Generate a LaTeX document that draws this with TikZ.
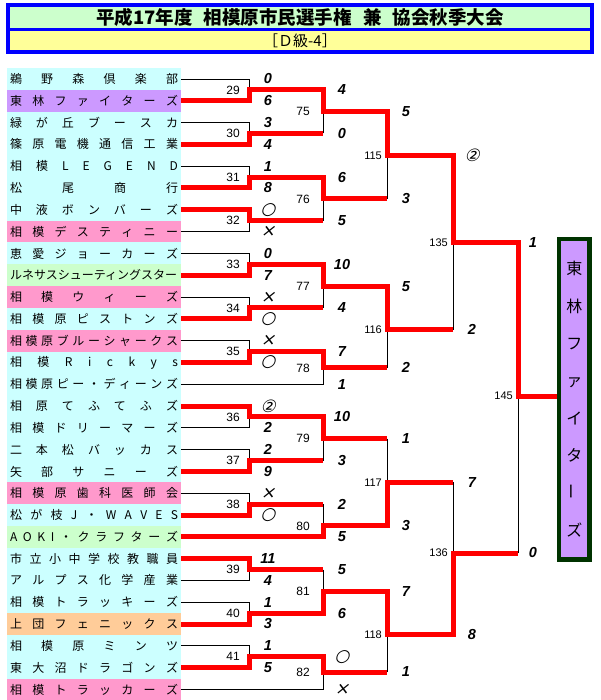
\documentclass[tikz,border=0pt]{standalone}
\usepackage{graphicx}
\usepackage{fontspec}
\setmainfont{Noto Sans CJK JP}
\newfontfamily\numf{Liberation Sans}
\newfontfamily\symf[FakeSlant=0.25]{DejaVu Sans}
\definecolor{rowcyan}{HTML}{CCFFFF}
\definecolor{rowpurple}{HTML}{CC99FF}
\definecolor{rowpink}{HTML}{FF99CC}
\definecolor{rowgreen}{HTML}{CCFFCC}
\definecolor{roworange}{HTML}{FFCC99}
\definecolor{titleblue}{HTML}{0000FF}
\definecolor{titleyellow}{HTML}{FFFF99}
\definecolor{champgreen}{HTML}{003300}
\newcommand{\tname}[1]{\makebox[168pt][s]{#1}}
\newcommand{\mk}[1]{{\symf\mdseries\upshape\fontsize{17}{18}\selectfont #1}}

\begin{document}
\begin{tikzpicture}[x=1pt,y=-1pt,
    loss/.style={black,line width=0.9pt},
    win/.style={red,line width=5pt},
    team/.style={minimum width=174pt,minimum height=21.8pt,inner sep=0pt,outer sep=0pt,font=\fontsize{12}{14}\selectfont},
    sc/.style={inner sep=0pt,font=\numf\bfseries\itshape\fontsize{14.5}{16}\selectfont},
    lab/.style={anchor=east,inner sep=0pt,font=\numf\fontsize{12}{14}\selectfont},
    labs/.style={anchor=east,inner sep=0pt,font=\numf\fontsize{11}{13}\selectfont}]
    \useasboundingbox (0,0) rectangle (600,700);
    \fill[titleblue] (6,3) rectangle (594,54);
    \node[fill=rowgreen,minimum width=580pt,minimum height=21pt,inner sep=0pt,font=\bfseries\fontsize{18.5}{20}\selectfont] (title) at (300,17.5) {平成17年度\hspace{0.6em}相模原市民選手権\hspace{0.6em}兼\hspace{0.6em}協会秋季大会};
    \node[fill=titleyellow,minimum width=580pt,minimum height=19pt,inner sep=0pt,font=\fontsize{15}{17}\selectfont] (subtitle) at (300,40.5) {［Ｄ級-4］};

    \node[team,fill=rowcyan] (t1) at (94,79) {\tname{鵜 野 森 倶 楽 部}};
    \node[team,fill=rowpurple] (t2) at (94,100.8) {\tname{東 林 フ ァ イ タ ー ズ}};
    \node[team,fill=rowcyan] (t3) at (94,122.6) {\tname{緑 が 丘 ブ ー ス カ}};
    \node[team,fill=rowcyan] (t4) at (94,144.4) {\tname{篠 原 電 機 通 信 工 業}};
    \node[team,fill=rowcyan] (t5) at (94,166.2) {\tname{相 模 L E G E N D}};
    \node[team,fill=rowcyan] (t6) at (94,188) {\tname{松 尾 商 行}};
    \node[team,fill=rowcyan] (t7) at (94,209.8) {\tname{中 液 ボ ン バ ー ズ}};
    \node[team,fill=rowpink] (t8) at (94,231.6) {\tname{相 模 デ ス テ ィ ニ ー}};
    \node[team,fill=rowcyan] (t9) at (94,253.4) {\tname{恵 愛 ジ ョ ー カ ー ズ}};
    \node[team,fill=rowgreen] (t10) at (94,275.2) {\tname{ルネサスシューティングスター}};
    \node[team,fill=rowpink] (t11) at (94,297) {\tname{相 模 ウ ィ ー ズ}};
    \node[team,fill=rowcyan] (t12) at (94,318.8) {\tname{相 模 原 ピ ス ト ン ズ}};
    \node[team,fill=rowpink] (t13) at (94,340.6) {\tname{相 模 原 ブ ル ー シ ャ ー ク ス}};
    \node[team,fill=rowcyan] (t14) at (94,362.4) {\tname{相 模 R i c k y s}};
    \node[team,fill=rowcyan] (t15) at (94,384.2) {\tname{相 模 原 ピ ー ・ デ ィ ー ン ズ}};
    \node[team,fill=rowcyan] (t16) at (94,406) {\tname{相 原 て ふ て ふ ズ}};
    \node[team,fill=rowcyan] (t17) at (94,427.8) {\tname{相 模 ド リ ー マ ー ズ}};
    \node[team,fill=rowcyan] (t18) at (94,449.6) {\tname{二 本 松 バ ッ カ ス}};
    \node[team,fill=rowcyan] (t19) at (94,471.4) {\tname{矢 部 サ ニ ー ズ}};
    \node[team,fill=rowpink] (t20) at (94,493.2) {\tname{相 模 原 歯 科 医 師 会}};
    \node[team,fill=rowcyan] (t21) at (94,515) {\tname{松 が 枝 J ・ W A V E S}};
    \node[team,fill=rowgreen] (t22) at (94,536.8) {\tname{A O K I ・ ク ラ フ タ ー ズ}};
    \node[team,fill=rowcyan] (t23) at (94,558.6) {\tname{市 立 小 中 学 校 教 職 員}};
    \node[team,fill=rowcyan] (t24) at (94,580.4) {\tname{ア ル プ ス 化 学 産 業}};
    \node[team,fill=rowcyan] (t25) at (94,602.2) {\tname{相 模 ト ラ ッ キ ー ズ}};
    \node[team,fill=roworange] (t26) at (94,624) {\tname{上 団 フ ェ ニ ッ ク ス}};
    \node[team,fill=rowcyan] (t27) at (94,645.8) {\tname{相 模 原 ミ ン ツ}};
    \node[team,fill=rowcyan] (t28) at (94,667.6) {\tname{東 大 沼 ド ラ ゴ ン ズ}};
    \node[team,fill=rowpink] (t29) at (94,689.4) {\tname{相 模 ト ラ ッ カ ー ズ}};

    \coordinate (m29) at (249,89.9);
    \coordinate (m30) at (249,133.5);
    \coordinate (m31) at (249,177.1);
    \coordinate (m32) at (249,220.7);
    \coordinate (m33) at (249,264.3);
    \coordinate (m34) at (249,307.9);
    \coordinate (m35) at (249,351.5);
    \coordinate (m36) at (249,416.9);
    \coordinate (m37) at (249,460.5);
    \coordinate (m38) at (249,504.1);
    \coordinate (m39) at (249,569.5);
    \coordinate (m40) at (249,613.1);
    \coordinate (m41) at (249,656.7);
    \coordinate (m75) at (323,111.7);
    \coordinate (m76) at (323,198.9);
    \coordinate (m77) at (323,286.1);
    \coordinate (m78) at (323,367.9);
    \coordinate (m79) at (323,438.7);
    \coordinate (m80) at (323,525.9);
    \coordinate (m81) at (323,591.3);
    \coordinate (m82) at (323,672);
    \coordinate (m115) at (387,155.3);
    \coordinate (m116) at (387,329.7);
    \coordinate (m117) at (387,482.3);
    \coordinate (m118) at (387,634.9);
    \coordinate (m135) at (453,242.5);
    \coordinate (m136) at (453,553);
    \coordinate (m145) at (518,396);

    \node[draw=champgreen,line width=4.5pt,fill=rowpurple,minimum width=30.5pt,minimum height=320.5pt,inner sep=0pt,align=center,font=\fontsize{16}{37.4}\selectfont] (champ) at (574.25,399.25) {東\\林\\フ\\ァ\\イ\\タ\\\rotatebox{90}{ー}\\ズ};

    \draw[loss] (t1.east) -| (m29);
    \draw[loss] (t3.east) -| (m30);
    \draw[loss] (t5.east) -| (m31);
    \draw[loss] (t8.east) -| (m32);
    \draw[loss] (t9.east) -| (m33);
    \draw[loss] (t11.east) -| (m34);
    \draw[loss] (t13.east) -| (m35);
    \draw[loss] (t17.east) -| (m36);
    \draw[loss] (t18.east) -| (m37);
    \draw[loss] (t20.east) -| (m38);
    \draw[loss] (t24.east) -| (m39);
    \draw[loss] (t25.east) -| (m40);
    \draw[loss] (t27.east) -| (m41);
    \draw[loss] (m30 -| m75) -- (m75);
    \draw[loss] (m32 -| m76) -- (m76);
    \draw[loss] (m34 -| m77) -- (m77);
    \draw[loss] (t15.east) -| (m78);
    \draw[loss] (m37 -| m79) -- (m79);
    \draw[loss] (m38 -| m80) -- (m80);
    \draw[loss] (m39 -| m81) -- (m81);
    \draw[loss] (t29.east) -| (m82);
    \draw[loss] (m76 -| m115) -- (m115);
    \draw[loss] (m78 -| m116) -- (m116);
    \draw[loss] (m79 -| m117) -- (m117);
    \draw[loss] (m82 -| m118) -- (m118);
    \draw[loss] (m116 -| m135) -- (m135);
    \draw[loss] (m117 -| m136) -- (m136);
    \draw[loss] (m136 -| m145) -- (m145);

    \draw[win] (t2.east) -| (m29) -- (m29 -| m75);
    \draw[win] (t4.east) -| (m30) -- (m30 -| m75);
    \draw[win] (t6.east) -| (m31) -- (m31 -| m76);
    \draw[win] (t7.east) -| (m32) -- (m32 -| m76);
    \draw[win] (t10.east) -| (m33) -- (m33 -| m77);
    \draw[win] (t12.east) -| (m34) -- (m34 -| m77);
    \draw[win] (t14.east) -| (m35) -- (m35 -| m78);
    \draw[win] (t16.east) -| (m36) -- (m36 -| m79);
    \draw[win] (t19.east) -| (m37) -- (m37 -| m79);
    \draw[win] (t21.east) -| (m38) -- (m38 -| m80);
    \draw[win] (t23.east) -| (m39) -- (m39 -| m81);
    \draw[win] (t26.east) -| (m40) -- (m40 -| m81);
    \draw[win] (t28.east) -| (m41) -- (m41 -| m82);
    \draw[win] (m29) -| (m75) -- (m75 -| m115);
    \draw[win] (m31) -| (m76) -- (m76 -| m115);
    \draw[win] (m33) -| (m77) -- (m77 -| m116);
    \draw[win] (m35) -| (m78) -- (m78 -| m116);
    \draw[win] (m36) -| (m79) -- (m79 -| m117);
    \draw[win] (t22.east) -| (m80) -- (m80 -| m117);
    \draw[win] (m40) -| (m81) -- (m81 -| m118);
    \draw[win] (m41) -| (m82) -- (m82 -| m118);
    \draw[win] (m75) -| (m115) -- (m115 -| m135);
    \draw[win] (m77) -| (m116) -- (m116 -| m135);
    \draw[win] (m80) -| (m117) -- (m117 -| m136);
    \draw[win] (m81) -| (m118) -- (m118 -| m136);
    \draw[win] (m115) -| (m135) -- (m135 -| m145);
    \draw[win] (m118) -| (m136) -- (m136 -| m145);
    \draw[win] (m135) -| (m145) -- (m145 -| champ.west);

    \node[lab] (l29) at (240,89.9) {29};
    \node[lab] (l30) at (240,133.5) {30};
    \node[lab] (l31) at (240,177.1) {31};
    \node[lab] (l32) at (240,220.7) {32};
    \node[lab] (l33) at (240,264.3) {33};
    \node[lab] (l34) at (240,307.9) {34};
    \node[lab] (l35) at (240,351.5) {35};
    \node[lab] (l36) at (240,416.9) {36};
    \node[lab] (l37) at (240,460.5) {37};
    \node[lab] (l38) at (240,504.1) {38};
    \node[lab] (l39) at (240,569.5) {39};
    \node[lab] (l40) at (240,613.1) {40};
    \node[lab] (l41) at (240,656.7) {41};
    \node[lab] (l75) at (310,111.7) {75};
    \node[lab] (l76) at (310,198.9) {76};
    \node[lab] (l77) at (310,286.1) {77};
    \node[lab] (l78) at (310,367.9) {78};
    \node[lab] (l79) at (310,438.7) {79};
    \node[lab] (l80) at (310,525.9) {80};
    \node[lab] (l81) at (310,591.3) {81};
    \node[lab] (l82) at (310,672) {82};
    \node[labs] (l115) at (382,155.3) {115};
    \node[labs] (l116) at (382,329.7) {116};
    \node[labs] (l117) at (382,482.3) {117};
    \node[labs] (l118) at (382,634.9) {118};
    \node[labs] (l135) at (448,242.5) {135};
    \node[labs] (l136) at (448,553) {136};
    \node[labs] (l145) at (513,396) {145};

    \node[sc] (s1) at (268,79) {0};
    \node[sc] (s2) at (268,100.8) {6};
    \node[sc] (s3) at (268,122.6) {3};
    \node[sc] (s4) at (268,144.4) {4};
    \node[sc] (s5) at (268,166.2) {1};
    \node[sc] (s6) at (268,188) {8};
    \node[sc] (s7) at (268,209.8) {\mk{○}};
    \node[sc] (s8) at (268,231.6) {\mk{×}};
    \node[sc] (s9) at (268,253.4) {0};
    \node[sc] (s10) at (268,275.2) {7};
    \node[sc] (s11) at (268,297) {\mk{×}};
    \node[sc] (s12) at (268,318.8) {\mk{○}};
    \node[sc] (s13) at (268,340.6) {\mk{×}};
    \node[sc] (s14) at (268,362.4) {\mk{○}};
    \node[sc] (s16) at (268,406) {\mk{②}};
    \node[sc] (s17) at (268,427.8) {2};
    \node[sc] (s18) at (268,449.6) {2};
    \node[sc] (s19) at (268,471.4) {9};
    \node[sc] (s20) at (268,493.2) {\mk{×}};
    \node[sc] (s21) at (268,515) {\mk{○}};
    \node[sc] (s23) at (268,558.6) {11};
    \node[sc] (s24) at (268,580.4) {4};
    \node[sc] (s25) at (268,602.2) {1};
    \node[sc] (s26) at (268,624) {3};
    \node[sc] (s27) at (268,645.8) {1};
    \node[sc] (s28) at (268,667.6) {5};
    \node[sc] (s29) at (342,89.9) {4};
    \node[sc] (s30) at (342,133.5) {0};
    \node[sc] (s31) at (342,177.1) {6};
    \node[sc] (s32) at (342,220.7) {5};
    \node[sc] (s33) at (342,264.3) {10};
    \node[sc] (s34) at (342,307.9) {4};
    \node[sc] (s35) at (342,351.5) {7};
    \node[sc] (s15) at (342,384.2) {1};
    \node[sc] (s36) at (342,416.9) {10};
    \node[sc] (s37) at (342,460.5) {3};
    \node[sc] (s38) at (342,504.1) {2};
    \node[sc] (s22) at (342,536.8) {5};
    \node[sc] (s39) at (342,569.5) {5};
    \node[sc] (s40) at (342,613.1) {6};
    \node[sc] (s41) at (342,656.7) {\mk{○}};
    \node[sc] (s29b) at (342,689.4) {\mk{×}};
    \node[sc] (s75) at (406,111.7) {5};
    \node[sc] (s76) at (406,198.9) {3};
    \node[sc] (s77) at (406,286.1) {5};
    \node[sc] (s78) at (406,367.9) {2};
    \node[sc] (s79) at (406,438.7) {1};
    \node[sc] (s80) at (406,525.9) {3};
    \node[sc] (s81) at (406,591.3) {7};
    \node[sc] (s82) at (406,672) {1};
    \node[sc] (s115) at (472,155.3) {\mk{②}};
    \node[sc] (s116) at (472,329.7) {2};
    \node[sc] (s117) at (472,482.3) {7};
    \node[sc] (s118) at (472,634.9) {8};
    \node[sc] (s135) at (533,242.5) {1};
    \node[sc] (s136) at (533,553) {0};
\end{tikzpicture}
\end{document}
